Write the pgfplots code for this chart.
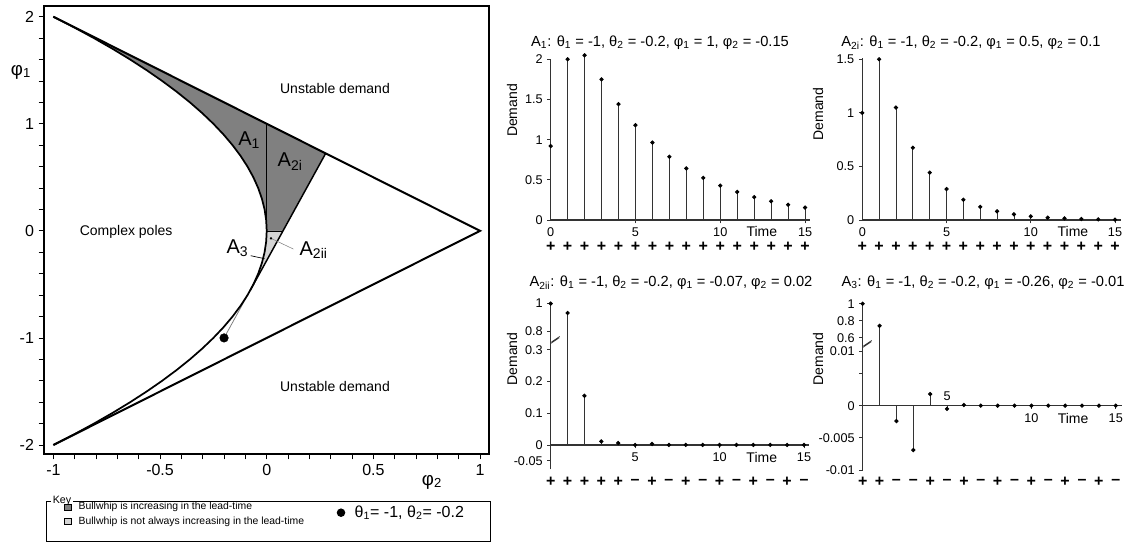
\documentclass[border=0pt]{standalone}
\usepackage{fontspec}
\setmainfont{Liberation Sans}
\usepackage{pgfplots}
\pgfplotsset{compat=1.18}

\definecolor{darkreg}{RGB}{128,128,128}
\definecolor{lightreg}{RGB}{212,212,212}
\newcommand{\fs}[1]{\fontsize{#1}{#1}\selectfont}
\newcommand{\sub}[1]{\textsubscript{#1}}

\pgfplotsset{
  stemaxis/.style={
    scale only axis, clip=false,
    axis y line=left, axis x line=middle,
    axis line style={-, line width=0.9pt, black!80},
    tick style={line width=0.6pt, black!80},
    tick align=outside, major tick length=2.5pt,
    xmin=0, scaled y ticks=false,
    ticklabel style={font=\fs{9.5}},
  },
  stem/.style={ycomb, black!80, line width=0.65pt,
    mark=*, mark size=1.25pt, mark options={black}},
}

\begin{document}
\begin{tikzpicture}
\useasboundingbox (0,0) rectangle (852pt,-406.5pt);

% ---------------- main stability triangle ----------------
\begin{axis}[
  at={(33pt,-340.5pt)}, anchor=south west, scale only axis,
  width=333.75pt, height=336pt,
  xmin=-1.044, xmax=1.042, ymin=-2.084, ymax=2.1,
  xtick={-1,-0.5,0,0.5,1}, xticklabels={-1,-0.5,0,0.5,1},
  ytick={-2,-1,0,1,2}, yticklabels={-2,-1,0,1,2},
  minor x tick num=4, minor y tick num=4,
  xtick pos=left, ytick pos=left, tick align=outside,
  major tick length=4pt, minor tick length=4pt,
  tick style={line width=0.6pt, black},
  ticklabel style={font=\fs{12}},
  axis line style={line width=0.8pt},
  clip=false,
]
  % bullwhip increasing region (A1 + A2i)
  \addplot[fill=darkreg, draw=none] coordinates {
    (0,0) (-0.0025,0.1) (-0.01,0.2) (-0.0225,0.3) (-0.04,0.4) (-0.0625,0.5)
    (-0.09,0.6) (-0.1225,0.7) (-0.16,0.8) (-0.2025,0.9) (-0.25,1) (-0.3025,1.1)
    (-0.36,1.2) (-0.4225,1.3) (-0.49,1.4) (-0.5625,1.5) (-0.64,1.6) (-0.7225,1.7)
    (-0.81,1.8) (-0.9025,1.9) (-1,2) (0.2764,0.7236) (0.0764,0) (0,0)};
  % not always increasing (A2ii + A3)
  \addplot[fill=lightreg, draw=none] coordinates {
    (0,0) (0.0764,0) (-0.0764,-0.5528) (-0.0625,-0.5) (-0.04,-0.4)
    (-0.0225,-0.3) (-0.01,-0.2) (-0.0025,-0.1) (0,0)};

  \addplot[black, line width=0.5pt] coordinates {(0,0) (0,1)};
  \addplot[black, line width=0.4pt] coordinates {(0,0) (0.0764,0)};
  \addplot[black, line width=1.1pt] coordinates {(0.2764,0.7236) (-0.0764,-0.5528)};
  \addplot[gray, line width=0.6pt] coordinates {(-0.0764,-0.5528) (-0.2,-1)};

  % complex poles boundary
  \addplot[black, line width=1.3pt] coordinates {
    (-1,-2) (-0.9025,-1.9) (-0.81,-1.8) (-0.7225,-1.7) (-0.64,-1.6) (-0.5625,-1.5)
    (-0.49,-1.4) (-0.4225,-1.3) (-0.36,-1.2) (-0.3025,-1.1) (-0.25,-1) (-0.2025,-0.9)
    (-0.16,-0.8) (-0.1225,-0.7) (-0.09,-0.6) (-0.0625,-0.5) (-0.04,-0.4) (-0.0225,-0.3)
    (-0.01,-0.2) (-0.0025,-0.1) (0,0) (-0.0025,0.1) (-0.01,0.2) (-0.0225,0.3)
    (-0.04,0.4) (-0.0625,0.5) (-0.09,0.6) (-0.1225,0.7) (-0.16,0.8) (-0.2025,0.9)
    (-0.25,1) (-0.3025,1.1) (-0.36,1.2) (-0.4225,1.3) (-0.49,1.4) (-0.5625,1.5)
    (-0.64,1.6) (-0.7225,1.7) (-0.81,1.8) (-0.9025,1.9) (-1,2)};
  % stability triangle
  \addplot[black, line width=1.5pt] coordinates {(-1,2) (1,0) (-1,-2)};

  \addplot[only marks, mark=*, mark size=3.2pt, black] coordinates {(-0.2,-1)};
  \addplot[only marks, mark=*, mark size=0.7pt, black] coordinates {(0.02,-0.07)};

  \draw[gray, line width=0.4pt] (axis cs:0.125,-0.17) -- (axis cs:0.02,-0.07);
  \draw[black, line width=0.5pt] (axis cs:-0.075,-0.232) -- (axis cs:-0.01,-0.26);

  \node[font=\fs{10.5}] at (axis cs:0.32,1.334) {Unstable demand};
  \node[font=\fs{10.5}] at (axis cs:0.32,-1.449) {Unstable demand};
  \node[font=\fs{10.5}] at (axis cs:-0.659,-0.011) {Complex poles};
  \node[font=\fs{15}] at (axis cs:-0.082,0.848) {A\sub{1}};
  \node[font=\fs{15}] at (axis cs:0.11,0.648) {A\sub{2i}};
  \node[font=\fs{15}] at (axis cs:-0.137,-0.163) {A\sub{3}};
  \node[font=\fs{15}] at (axis cs:0.22,-0.179) {A\sub{2ii}};
\end{axis}

% ---------------- A1 ----------------
\begin{axis}[stemaxis,
  at={(413pt,-165pt)}, anchor=south west,
  width=194.6pt, height=121.1pt,
  xmax=15.3, ymin=0, ymax=2.01,
  xtick={0,5,10,15}, xticklabels={0,5,10,15},
  ytick={0,0.5,1,1.5,2}, yticklabels={0,0.5,1,1.5,2},
]
  \addplot[stem] coordinates {
    (0,0.92) (1,2) (2,2.05) (3,1.75) (4,1.4425) (5,1.18) (6,0.964) (7,0.787)
    (8,0.642) (9,0.524) (10,0.428) (11,0.349) (12,0.285) (13,0.233) (14,0.19) (15,0.155)};
  \node[font=\fs{9.5}, yshift=-8.8pt] at (axis cs:0,0) {0};
  \node[font=\fs{10.5}, yshift=-8.8pt] at (axis cs:12.45,0) {Time};
\end{axis}

% ---------------- A2i ----------------
\begin{axis}[stemaxis,
  at={(646.7pt,-165pt)}, anchor=south west,
  width=194pt, height=121.3pt,
  xmax=15.35, ymin=0, ymax=1.51,
  xtick={0,5,10,15}, xticklabels={0,5,10,15},
  ytick={0,0.5,1,1.5}, yticklabels={0,0.5,1,1.5},
]
  \addplot[stem] coordinates {
    (0,1) (1,1.5) (2,1.05) (3,0.675) (4,0.4425) (5,0.289) (6,0.189) (7,0.123)
    (8,0.081) (9,0.053) (10,0.034) (11,0.022) (12,0.015) (13,0.0095) (14,0.006) (15,0.004)};
  \node[font=\fs{9.5}, yshift=-8.8pt] at (axis cs:0,0) {0};
  \node[font=\fs{10.5}, yshift=-8.8pt] at (axis cs:12.5,0) {Time};
\end{axis}

% ---------------- A2ii (broken axis: 0.8-1 above 0.3) ----------------
\begin{axis}[stemaxis,
  at={(413pt,-352pt)}, anchor=south west,
  width=193.8pt, height=124.3pt,
  xmax=15.3, ymin=-0.077, ymax=0.4457,
  xtick={5,10,15}, xticklabels={5,10,15},
  ytick={-0.05,0,0.1,0.2,0.3,0.3574,0.4457},
  yticklabels={-0.05,0,0.1,0.2,0.3,0.8,1},
]
  \addplot[stem, y filter/.expression={y>0.5 ? 0.3574+(y-0.8)*0.4416 : y}] coordinates {
    (0,1) (1,0.933) (2,0.155) (3,0.011) (4,0.006) (5,0) (6,0.003) (7,0)
    (8,0) (9,0) (10,0) (11,0) (12,0) (13,0) (14,0) (15,0)};
  \node[font=\fs{10.5}, yshift=-9.3pt] at (axis cs:12.5,0) {Time};
  \draw[black!80, line width=0.6pt] ([yshift=-2.6pt]axis cs:0,0.331) -- ++(4.5pt,3pt)
     -- ++(-2.2pt,-0.8pt) -- ++(4.5pt,3pt);
\end{axis}

% ---------------- A3 (broken axis: 0.6-1 above 0.01) ----------------
\begin{axis}[stemaxis,
  at={(647pt,-352.5pt)}, anchor=south west,
  width=194.25pt, height=124.7pt,
  xmax=15.35, ymin=-0.01, ymax=0.01584,
  xtick={5,10,15}, xticklabels={,10,15},
  ytick={-0.01,-0.005,0,0.005,0.0085,0.01056,0.0132,0.01584},
  yticklabels={-0.01,-0.005,0,,0.01,0.6,0.8,1},
]
  \addplot[stem, y filter/.expression={y>0.3 ? 0.01056+(y-0.6)*0.0132 : y}] coordinates {
    (0,1) (1,0.74) (2,-0.0024) (3,-0.0069) (4,0.0018) (5,-0.0005) (6,0.0001) (7,0)
    (8,0) (9,0) (10,0) (11,0) (12,0) (13,0) (14,0) (15,0)};
  \node[font=\fs{9.5}, yshift=7pt] at (axis cs:5,0) {5};
  \node[font=\fs{10.5}, yshift=-9.3pt] at (axis cs:12.47,0) {Time};
  \draw[black!80, line width=0.6pt] ([yshift=-2.6pt]axis cs:0,0.00958) -- ++(4.5pt,3pt)
     -- ++(-2.2pt,-0.8pt) -- ++(4.5pt,3pt);
\end{axis}

% ---------------- texts, sign rows and key (pixel grid) ----------------
\begin{scope}[x=0.75pt, y=-0.75pt]
  \node[font=\fs{14}] at (21,72) {φ\sub{1}};
  \node[font=\fs{14}] at (432,482) {φ\sub{2}};

  \node[font=\fs{11}] at (660,43) {A\sub{1}: θ\sub{1} = -1, θ\sub{2} = -0.2, φ\sub{1} = 1, φ\sub{2} = -0.15};
  \node[font=\fs{11}] at (971,43) {A\sub{2i}: θ\sub{1} = -1, θ\sub{2} = -0.2, φ\sub{1} = 0.5, φ\sub{2} = 0.1};
  \node[font=\fs{11}] at (671,283) {A\sub{2ii}: θ\sub{1} = -1, θ\sub{2} = -0.2, φ\sub{1} = -0.07, φ\sub{2} = 0.02};
  \node[font=\fs{11}] at (983,283) {A\sub{3}: θ\sub{1} = -1, θ\sub{2} = -0.2, φ\sub{1} = -0.26, φ\sub{2} = -0.01};

  \node[font=\fs{10.5}, rotate=90] at (512,110.5) {Demand};
  \node[font=\fs{10.5}, rotate=90] at (818,114) {Demand};
  \node[font=\fs{10.5}, rotate=90] at (512,359) {Demand};
  \node[font=\fs{10.5}, rotate=90] at (818,359) {Demand};

  \foreach \s [count=\i from 0] in {+,+,+,+,+,+,+,+,+,+,+,+,+,+,+,+}
    \node[font=\bfseries\fs{12}] at (550.7+16.96*\i,247) {\s};
  \foreach \s [count=\i from 0] in {+,+,+,+,+,+,+,+,+,+,+,+,+,+,+,+}
    \node[font=\bfseries\fs{12}] at (862.3+16.85*\i,247) {\s};
  \foreach \s [count=\i from 0] in {+,+,+,+,+,–,+,–,+,–,+,–,+,–,+,–}
    \node[font=\bfseries\fs{12}] at (550.7+16.89*\i,482) {\s};
  \foreach \s [count=\i from 0] in {+,+,–,–,+,–,+,–,+,–,+,–,+,–,+,–}
    \node[font=\bfseries\fs{12}] at (862.7+16.87*\i,482) {\s};

  % key
  \draw[line width=0.6pt] (46,501) rectangle (490,541);
  \node[fill=white, inner xsep=1.5pt, inner ysep=0pt, font=\fs{8}] at (62,501) {Key};
  \draw[fill=darkreg, line width=0.5pt] (64,504) rectangle (71,510);
  \node[anchor=west, font=\fs{7.8}] at (74,507) {Bullwhip is increasing in the lead-time};
  \draw[fill=lightreg, line width=0.5pt] (64,518.5) rectangle (71,524.5);
  \node[anchor=west, font=\fs{7.8}] at (74,521.5) {Bullwhip is not always increasing in the lead-time};
  \fill (341,512.7) circle (3.2pt);
  \node[anchor=west, font=\fs{12}] at (350,512.7) {θ\sub{1}= -1, θ\sub{2}= -0.2};
\end{scope}
\end{tikzpicture}
\end{document}
